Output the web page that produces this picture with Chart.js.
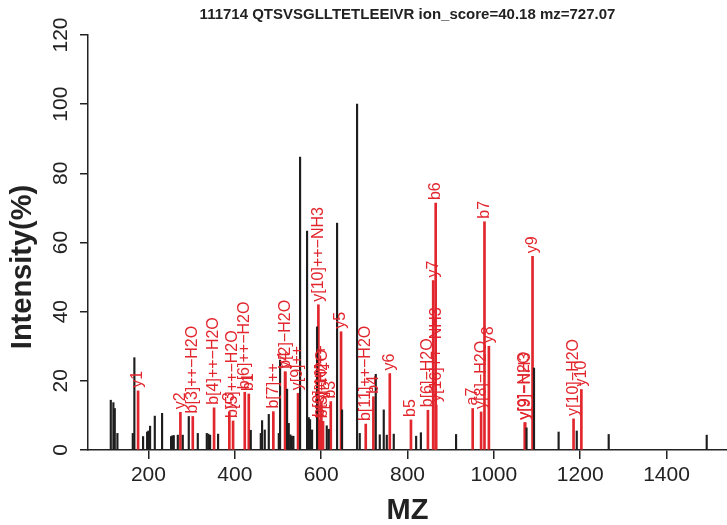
<!DOCTYPE html>
<html>
<head>
<meta charset="utf-8">
<script src="https://cdn.jsdelivr.net/npm/chart.js@4.4.1/dist/chart.umd.min.js"></script>
<style>
  html, body { margin: 0; padding: 0; background: #fff; }
  #chart { display: block; }
</style>
</head>
<body>
<canvas id="chart" width="727" height="525"></canvas>
<script>
const titulo = "111714 QTSVSGLLTETLEEIVR ion_score=40.18 mz=727.07";

// picos sin anotar (negro)
const mzOtros = [112.8, 118.8, 122.0, 128.1, 163.7, 167.4, 187.6, 196.9, 199.9, 203.8,
  214.7, 231.6, 252.4, 255.4, 258.7, 268.0, 279.5, 293.4, 314.3, 335.1,
  338.8, 342.8, 361.3, 437.0, 460.2, 463.2, 469.4, 478.7, 501.9, 504.9,
  521.1, 525.0, 528.7, 532.0, 535.7, 551.2, 567.4, 571.3, 574.3, 579.0,
  590.5, 613.0, 617.6, 636.9, 648.4, 683.2, 689.4, 726.5, 735.8, 745.0,
  752.0, 768.2, 820.0, 831.0, 912.5, 1075.7, 1093.0, 1150.0, 1192.0, 1266.0,
  1493.0];
const intOtros = [14.4, 13.7, 12.0, 4.8, 4.8, 26.7, 3.9, 5.2, 5.5, 6.9,
  9.8, 10.6, 3.9, 4.1, 4.2, 4.3, 4.3, 9.7, 4.8, 4.8,
  4.6, 4.3, 4.6, 5.7, 4.8, 8.5, 5.8, 10.3, 4.8, 26.0,
  17.6, 7.7, 4.4, 4.0, 4.0, 84.7, 63.3, 9.4, 8.8, 5.8,
  35.6, 7.0, 6.0, 65.6, 11.6, 100.0, 4.8, 21.9, 4.4, 11.6,
  4.3, 4.6, 4.0, 5.0, 4.5, 6.4, 23.7, 5.2, 5.5, 4.5,
  4.3];

// picos anotados (rojo)
const mzIones = [176.0, 274.0, 302.7, 352.0, 387.4, 396.0, 423.1, 432.4, 489.3, 516.4,
  517.0, 546.5, 593.6, 597.5, 600.5, 604.4, 622.3, 646.1, 703.3, 721.0,
  759.0, 808.0, 847.3, 859.5, 865.3, 866.5, 951.0, 970.5, 978.3, 988.5,
  1071.6, 1072.6, 1089.6, 1184.6, 1202.7];
const intIones = [17.1, 10.9, 9.7, 12.2, 10.9, 8.4, 16.7, 16.2, 11.1, 22.6,
  22.6, 16.4, 42.0, 8.7, 14.0, 8.3, 14.0, 34.2, 7.5, 15.4,
  22.1, 8.7, 11.5, 49.0, 71.4, 13.0, 12.0, 11.0, 66.0, 30.0,
  7.9, 7.9, 56.0, 9.0, 17.5];
const etiquetasIones = ["y1", "y2", "b[3]++-H2O", "b[4]++-H2O", "y3", "b[5]++-H2O", "b[6]++-H2O", "b1", "b[7]++", "y4",
  "b[2]-H2O", "y[9]++", "y[10]++-NH3", "b[9]++", "y[10]++", "b[3]-H2O", "b3", "y5", "b[11]++-H2O", "b4",
  "y6", "b5", "b[6]-H2O", "y7", "b6", "y[16]++-NH3", "a7", "y[8]-H2O", "b7", "y8",
  "y[9]-H2O", "y[9]-NH3", "y9", "y[10]-H2O", "y10"];

const ticksX = [200, 400, 600, 800, 1000, 1200, 1400];
const ticksY = [0, 20, 40, 60, 80, 100, 120];

const rojo = "#e2262d";
const negro = "#1e1e1e";
const fuente = '"Liberation Sans", Arial, Helvetica, sans-serif';

const textoExtra = {
  id: "textoExtra",
  afterDraw(chart) {
    const { ctx, chartArea, scales: { x, y } } = chart;
    ctx.save();

    // etiquetas de los iones
    ctx.fillStyle = rojo;
    ctx.font = "16px " + fuente;
    ctx.textAlign = "left";
    ctx.textBaseline = "middle";
    mzIones.forEach((mz, i) => {
      ctx.save();
      ctx.translate(x.getPixelForValue(mz), y.getPixelForValue(intIones[i]) - 3);
      ctx.rotate(-Math.PI / 2);
      ctx.fillText(etiquetasIones[i].replace("-", "\u2212"), 0, 0);
      ctx.restore();
    });

    // numeros del eje y, girados
    ctx.fillStyle = "#222";
    ctx.font = "21px " + fuente;
    ctx.textAlign = "center";
    ctx.textBaseline = "middle";
    ticksY.forEach((v) => {
      ctx.save();
      ctx.translate(61, y.getPixelForValue(v));
      ctx.rotate(-Math.PI / 2);
      ctx.fillText(String(v), 0, 0);
      ctx.restore();
    });

    // titulos
    ctx.font = "bold 29px " + fuente;
    ctx.save();
    ctx.translate(23, 267);
    ctx.rotate(-Math.PI / 2);
    ctx.fillText("Intensity(%)", 0, 0);
    ctx.restore();
    ctx.fillText("MZ", (chartArea.left + chartArea.right) / 2, 511);

    ctx.font = "bold 15px " + fuente;
    ctx.fillText(titulo, (chartArea.left + chartArea.right) / 2, 15);
    ctx.restore();
  },
};

const toPuntos = (xs, ys) => xs.map((v, i) => ({ x: v, y: ys[i] }));

const myChart = new Chart(document.getElementById("chart"), {
  type: "bar",
  data: {
    datasets: [
      {
        label: "otros",
        data: toPuntos(mzOtros, intOtros),
        backgroundColor: negro,
        barThickness: 1.5,
      },
      {
        label: "iones",
        data: toPuntos(mzIones, intIones),
        backgroundColor: rojo,
        barThickness: 2,
      },
    ],
  },
  options: {
    responsive: false,
    animation: false,
    devicePixelRatio: 1,
    grouped: false,
    layout: { padding: { top: 35, left: 0, right: 0, bottom: 0 } },
    plugins: {
      legend: { display: false },
      tooltip: { enabled: false },
    },
    scales: {
      x: {
        type: "linear",
        offset: false,
        min: 60,
        max: 1540,
        afterBuildTicks: (s) => { s.ticks = ticksX.map((v) => ({ value: v })); },
        afterFit: (s) => { s.height = 75; },
        border: { display: true, color: "#222", width: 1.5 },
        grid: { display: true, offset: false, drawOnChartArea: false, drawTicks: true, tickLength: 9, color: "#222", lineWidth: 1.5 },
        ticks: { autoSkip: false, maxRotation: 0, color: "#222", padding: 4, font: { family: fuente, size: 21 }, callback: (v) => String(v) },
      },
      y: {
        min: 0,
        max: 120,
        afterBuildTicks: (s) => { s.ticks = ticksY.map((v) => ({ value: v })); },
        afterFit: (s) => { s.width = 88; },
        border: { display: true, color: "#222", width: 1.5 },
        grid: { display: true, offset: false, drawOnChartArea: false, drawTicks: true, tickLength: 8, color: "#222", lineWidth: 1.5 },
        ticks: { autoSkip: false, color: "rgba(0,0,0,0)", font: { size: 10 } },
      },
    },
  },
  plugins: [textoExtra],
});
</script>
</body>
</html>
